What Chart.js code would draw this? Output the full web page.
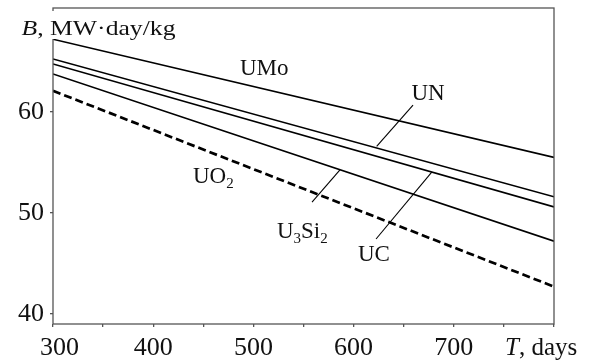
<!DOCTYPE html>
<html>
<head>
<meta charset="utf-8">
<script src="https://cdn.jsdelivr.net/npm/chart.js@4.4.1/dist/chart.umd.min.js"></script>
<style>
  html, body { margin: 0; padding: 0; background: #fff; }
  #wrap { width: 589px; height: 364px; position: relative; }
</style>
</head>
<body>
<div id="wrap"><canvas id="c" width="589" height="364"></canvas></div>
<script>
// ---- data ----
const T = [300, 800];                 // days
const UMo   = [67.2, 55.5];
const UN    = [65.25, 51.6];
const UC    = [64.75, 50.6];
const U3Si2 = [63.76, 47.2];
const UO2   = [62.1, 42.7];

const xTicks = [300, 400, 500, 600, 700];
const yTicks = [40, 50, 60];

// leader lines (data units)
const leaderUN    = [{x: 659.3, y: 60.69}, {x: 623, y: 56.6}];
const leaderU3Si2 = [{x: 558.5, y: 51.08}, {x: 586.4, y: 54.27}];
const leaderUC    = [{x: 622.4, y: 47.42}, {x: 678, y: 54.05}];

// labels anchored at left/baseline in data units
const labels = [
  {parts: [['UMo', false]], x: 486.6, y: 63.66},
  {parts: [['UN', false]], x: 657.7, y: 61.19},
  {parts: [['UO', false], ['2', true]], x: 439.7, y: 52.97},
  {parts: [['U', false], ['3', true], ['Si', false], ['2', true]], x: 523.5, y: 47.52},
  {parts: [['UC', false]], x: 604.3, y: 45.24}
];

const FONT = '"Liberation Serif", "Times New Roman", Times, serif';

function pts(ys) { return T.map((t, i) => ({x: t, y: ys[i]})); }

const solid = {borderColor: '#000', borderWidth: 1.6, pointRadius: 0, fill: false, tension: 0};

const decor = {
  id: 'decor',
  afterDraw(chart) {
    const {ctx, chartArea: a, scales: {x, y}} = chart;
    ctx.save();
    ctx.strokeStyle = '#555';
    ctx.lineWidth = 1.3;
    ctx.strokeRect(a.left, a.top, a.right - a.left, a.bottom - a.top);
    ctx.fillStyle = '#111';
    ctx.textBaseline = 'alphabetic';
    labels.forEach(l => {
      let px = x.getPixelForValue(l.x);
      const py = y.getPixelForValue(l.y);
      l.parts.forEach(([s, sub]) => {
        ctx.font = (sub ? '15px ' : '23px ') + FONT;
        ctx.fillText(s, px, py + (sub ? 5 : 0));
        px += ctx.measureText(s).width;
      });
    });
    ctx.fillStyle = '#fff';
    ctx.fillRect(14, 11, 168, 28);
    ctx.fillStyle = '#111';
    ctx.font = 'italic 21px ' + FONT;
    const wB = ctx.measureText('B').width;
    ctx.font = '21px ' + FONT;
    const rest = ', MW·day/kg';
    const wR = ctx.measureText(rest).width;
    const sx = 154 / (wB + wR);
    ctx.save();
    ctx.translate(21.5, 35.3);
    ctx.scale(sx, 1);
    ctx.font = 'italic 21px ' + FONT;
    ctx.fillText('B', 0, 0);
    ctx.font = '21px ' + FONT;
    ctx.fillText(rest, wB, 0);
    ctx.restore();
    ctx.font = 'italic 25px ' + FONT;
    ctx.fillText('T', 505, 355);
    const wT = ctx.measureText('T').width;
    ctx.font = '25px ' + FONT;
    ctx.fillText(', days', 505 + wT, 355);
    ctx.restore();
  }
};

function build() {
  new Chart(document.getElementById('c'), {
    type: 'line',
    data: {
      datasets: [
        {...solid, label: 'UMo', data: pts(UMo)},
        {...solid, label: 'UN', data: pts(UN)},
        {...solid, label: 'UC', data: pts(UC)},
        {...solid, label: 'U3Si2', data: pts(U3Si2)},
        {...solid, label: 'UO2', data: pts(UO2), borderWidth: 2.7, borderDash: [8, 4]},
        {...solid, label: 'l1', data: leaderUN, borderWidth: 1.1},
        {...solid, label: 'l2', data: leaderU3Si2, borderWidth: 1.1},
        {...solid, label: 'l3', data: leaderUC, borderWidth: 1.1}
      ]
    },
    options: {
      responsive: false,
      animation: false,
      devicePixelRatio: 1,
      layout: {padding: {top: 8, right: 35, left: 0, bottom: 0}},
      plugins: {legend: {display: false}, tooltip: {enabled: false}},
      scales: {
        x: {
          type: 'linear', min: 300, max: 800,
          afterFit(s) { s.height = 40; s.paddingLeft = 0; s.paddingRight = 0; },
          afterBuildTicks(s) {
            const t = [];
            for (let v = 300; v <= 800; v += 50) t.push({value: v});
            s.ticks = t;
          },
          border: {display: false},
          grid: {drawOnChartArea: false, drawTicks: true, tickLength: 3, color: '#555', lineWidth: 1.3},
          ticks: {
            autoSkip: false, maxRotation: 0, padding: 6, color: '#111',
            font: {family: FONT, size: 26},
            callback: v => xTicks.includes(v) ? (v === 300 ? '\u2002300' : String(v)) : ''
          }
        },
        y: {
          type: 'linear', min: 39.0, max: 70.3,
          afterFit(s) { s.width = 53; s.paddingTop = 0; s.paddingBottom = 0; },
          afterBuildTicks(s) { s.ticks = yTicks.map(v => ({value: v})); },
          border: {display: false},
          grid: {drawOnChartArea: false, drawTicks: true, tickLength: 3, color: '#555', lineWidth: 1.3},
          ticks: {padding: 6, color: '#111', font: {family: FONT, size: 26}}
        }
      }
    },
    plugins: [decor]
  });
}

Promise.all([
  document.fonts.load('25px "Liberation Serif"'),
  document.fonts.load('italic 25px "Liberation Serif"')
]).catch(() => {}).then(build);
</script>
</body>
</html>
